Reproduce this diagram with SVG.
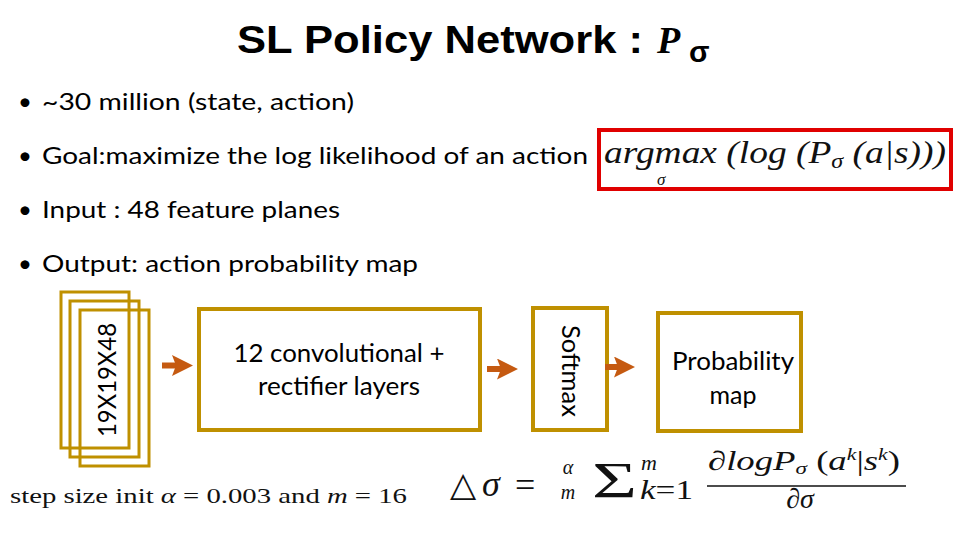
<svg xmlns="http://www.w3.org/2000/svg" width="960" height="540" viewBox="0 0 960 540">
<style>
.b{font-family:Lato,"Open Sans","Liberation Sans",sans-serif;font-size:24px;fill:#000}
.m{font-family:"Liberation Serif","DejaVu Serif",serif;fill:#111}
.box{fill:#fff;stroke:#BF9000;stroke-width:4}
.stk{fill:none;stroke:#BF9000;stroke-width:3}
.lbl{font-family:Lato,"Open Sans","Liberation Sans",sans-serif;font-size:25px;fill:#000;text-anchor:middle}
.arr{stroke:#C55A11;stroke-width:6;fill:none}
</style>
<defs>
<marker id="ah" markerWidth="22" markerHeight="22" refX="10" refY="10.5" orient="auto" markerUnits="userSpaceOnUse">
<path d="M0,0 L21,10.5 L0,21 L4,10.5 Z" fill="#C55A11"/>
</marker>
</defs>
<rect width="960" height="540" fill="#fff"/>
<g id="title">
<text x="237" y="53" font-family="Liberation Sans,Arial,sans-serif" font-weight="bold" font-size="38" textLength="406" lengthAdjust="spacingAndGlyphs">SL Policy Network :</text>
<text x="657" y="53" font-family="Liberation Serif,serif" font-style="italic" font-weight="bold" font-size="38">P</text>
<text x="689" y="62" font-family="Liberation Sans,sans-serif" font-weight="bold" font-size="30">σ</text>
</g>
<g id="bullets">
<text class="b" x="18" y="110">•</text><text class="b" x="42" y="110" textLength="312" lengthAdjust="spacingAndGlyphs">~30 million (state, action)</text>
<text class="b" x="18" y="164">•</text><text class="b" x="42" y="164" textLength="546" lengthAdjust="spacingAndGlyphs">Goal:maximize the log likelihood of an action</text>
<text class="b" x="18" y="218">•</text><text class="b" x="42" y="218" textLength="298" lengthAdjust="spacingAndGlyphs">Input : 48 feature planes</text>
<text class="b" x="18" y="272">•</text><text class="b" x="42" y="272" textLength="376" lengthAdjust="spacingAndGlyphs">Output: action probability map</text>
</g>
<g id="argmax">
<rect x="599" y="130" width="352" height="59" fill="none" stroke="#E00000" stroke-width="4"/>
<text class="m" x="604" y="163" font-size="31" font-style="italic" textLength="342" lengthAdjust="spacingAndGlyphs">argmax (log (P<tspan font-size="20" dy="5">σ</tspan><tspan dy="-5"> (a|s)))</tspan></text>
<text class="m" x="657" y="185" font-size="17" font-style="italic">σ</text>
</g>
<g id="input">
<rect class="stk" x="61" y="292" width="68" height="156"/>
<rect class="stk" x="70" y="301" width="69" height="156"/>
<rect class="stk" x="80" y="310" width="69" height="156"/>
<text class="lbl" font-size="23" transform="translate(116,380) rotate(-90)" textLength="114" lengthAdjust="spacingAndGlyphs">19X19X48</text>
</g>
<g id="conv">
<rect class="box" x="199" y="309" width="281" height="121"/>
<text class="lbl" x="339" y="362" textLength="211" lengthAdjust="spacingAndGlyphs">12 convolutional +</text>
<text class="lbl" x="339" y="395" textLength="162" lengthAdjust="spacingAndGlyphs">rectifier layers</text>
</g>
<g id="softmax">
<rect class="box" x="533" y="308" width="74" height="122"/>
<text class="lbl" transform="translate(562,371) rotate(90)" textLength="92" lengthAdjust="spacingAndGlyphs">Softmax</text>
</g>
<g id="prob">
<rect class="box" x="658" y="313" width="143" height="118"/>
<text class="lbl" x="733" y="370" textLength="122" lengthAdjust="spacingAndGlyphs">Probability</text>
<text class="lbl" x="733" y="404">map</text>
</g>
<g id="connectors">
<line class="arr" x1="162" y1="365.5" x2="182" y2="365.5" marker-end="url(#ah)"/>
<line class="arr" x1="487" y1="369" x2="507" y2="369" marker-end="url(#ah)"/>
<line class="arr" x1="605" y1="367" x2="624" y2="367" marker-end="url(#ah)"/>
</g>
<g id="bottom">
<text class="m" x="10" y="503" font-size="22" textLength="397" lengthAdjust="spacingAndGlyphs">step size init <tspan font-style="italic">α</tspan> = 0.003 and <tspan font-style="italic">m</tspan> = 16</text>
<text class="m" x="450" y="496" font-size="34">△</text>
<text class="m" x="482" y="496" font-size="36" font-style="italic">σ</text>
<text class="m" x="515" y="497" font-size="36">=</text>
<text class="m" x="568" y="474" font-size="20" font-style="italic" text-anchor="middle">α</text>
<text class="m" x="568" y="499" font-size="20" font-style="italic" text-anchor="middle">m</text>
<text class="m" x="592" y="497" font-size="50" font-weight="normal" textLength="45" lengthAdjust="spacingAndGlyphs">Σ</text>
<text class="m" x="641" y="470" font-size="22" font-style="italic">m</text>
<text class="m" x="640" y="499" font-size="27" textLength="53" lengthAdjust="spacingAndGlyphs"><tspan font-style="italic">k</tspan>=1</text>
<text class="m" x="708" y="470" font-size="27" font-style="italic" textLength="192" lengthAdjust="spacingAndGlyphs">∂logP<tspan font-size="17" dy="4">σ</tspan><tspan dy="-4" font-style="normal"> (</tspan>a<tspan font-size="16" dy="-10">k</tspan><tspan dy="10" font-style="normal">|</tspan>s<tspan font-size="16" dy="-10">k</tspan><tspan dy="10" font-style="normal">)</tspan></text>
<line x1="707" y1="486" x2="906" y2="486" stroke="#111" stroke-width="1.5"/>
<text class="m" x="800" y="508" font-size="28" font-style="italic" text-anchor="middle">∂σ</text>
</g>
</svg>
